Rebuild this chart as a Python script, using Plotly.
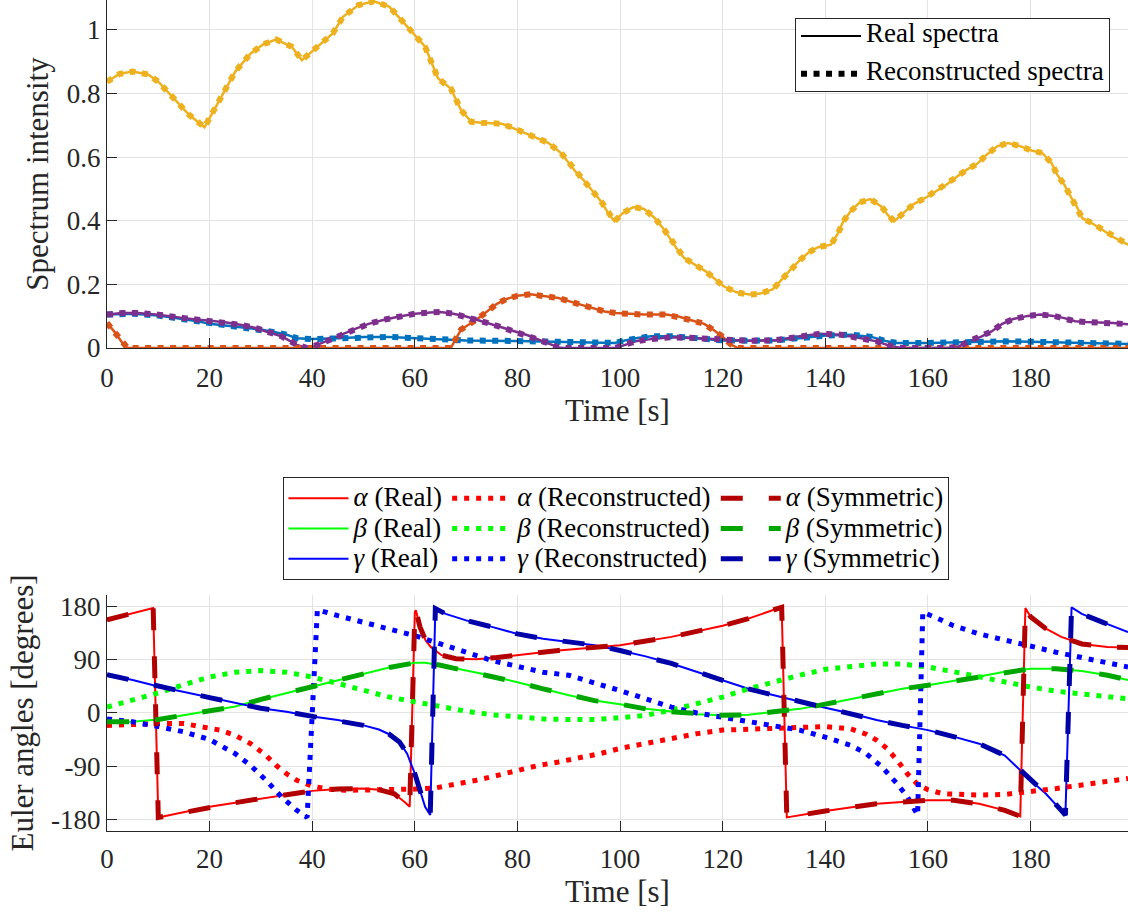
import plotly.graph_objects as go

# ---------------- top panel data (time [s], intensity) ----------------
t_yellow = [0, 2.5, 5, 8, 10, 13, 16, 19, 22, 25, 28, 30.5, 33, 36, 38, 41, 44, 46, 49, 52,
            55, 58, 60, 62, 64.5, 67, 69, 71, 73, 77, 80, 83, 86, 88.5, 91.3, 93.1, 94.7, 96.3,
            97.7, 98.9, 100.5, 102.6, 104.7, 106.8, 108.6, 109.7, 111.1, 112.5, 114.6, 116.7,
            118.5, 120.2, 122.7, 125.2, 127.3, 129.8, 131.5, 133.3, 135.1, 136.8, 138.6, 141.1,
            142.5, 143.5, 144.9, 146.7, 148.8, 150.9, 152.3, 153.4, 155.2, 157.3, 159.4, 161.5,
            163.6, 165.7, 167.5, 169.6, 171.4, 173.5, 175.6, 177.7, 180.2, 182.3, 184.1, 185.2,
            186.6, 188.0, 189.0, 190.1, 191.9, 194.0, 196.1, 199]
yellow = [0.837, 0.862, 0.869, 0.860, 0.837, 0.785, 0.733, 0.694, 0.780, 0.869, 0.926, 0.955,
          0.970, 0.947, 0.905, 0.947, 0.989, 1.041, 1.078, 1.090, 1.073, 1.020, 0.984, 0.947,
          0.848, 0.816, 0.748, 0.711, 0.708, 0.705, 0.686, 0.665, 0.645, 0.613, 0.555, 0.524,
          0.492, 0.461, 0.424, 0.398, 0.424, 0.443, 0.437, 0.408, 0.372, 0.346, 0.311, 0.283,
          0.262, 0.241, 0.217, 0.194, 0.175, 0.168, 0.171, 0.185, 0.215, 0.248, 0.277, 0.301,
          0.317, 0.325, 0.361, 0.398, 0.429, 0.458, 0.468, 0.445, 0.416, 0.398, 0.424, 0.453,
          0.471, 0.492, 0.513, 0.539, 0.560, 0.579, 0.607, 0.634, 0.644, 0.636, 0.621, 0.613,
          0.581, 0.545, 0.513, 0.471, 0.445, 0.408, 0.393, 0.372, 0.349, 0.325]

t_orange = [0, 1.5, 3, 4, 67, 69, 72, 74, 76, 78, 80, 82.5, 85, 88, 91.3, 94.5, 97, 99.1, 101.9,
            104.7, 109, 111.4, 113.5, 116.4, 118.1, 119.9, 121.7, 123, 199]
orange = [0.079, 0.050, 0.016, 0.0, 0.0, 0.058, 0.089, 0.115, 0.139, 0.155, 0.164, 0.169, 0.164,
          0.157, 0.141, 0.126, 0.115, 0.110, 0.107, 0.105, 0.105, 0.099, 0.089, 0.076, 0.058,
          0.037, 0.010, 0.0, 0.0]

t_blue = [0, 5, 10, 15, 18, 20, 25, 28, 30, 33, 35, 37, 40, 45, 50, 55, 60, 65, 70, 80, 88, 95,
          99, 101, 103, 106, 110, 115, 120, 125, 130, 135, 140, 145, 149, 152, 154, 160, 165,
          170, 175, 180, 190, 199]
blue = [0.105, 0.108, 0.102, 0.091, 0.083, 0.076, 0.068, 0.063, 0.058, 0.049, 0.042, 0.031,
        0.028, 0.031, 0.035, 0.035, 0.031, 0.026, 0.024, 0.022, 0.019, 0.016, 0.016, 0.024,
        0.031, 0.037, 0.037, 0.031, 0.024, 0.023, 0.024, 0.031, 0.039, 0.042, 0.035, 0.021,
        0.016, 0.016, 0.018, 0.021, 0.021, 0.020, 0.016, 0.013]

t_purple = [0, 3, 6, 10, 15, 20, 23, 26, 29, 31, 34, 37, 39, 41, 44, 46, 48.5, 51, 54, 57, 60,
            63, 65, 67.5, 70, 73, 76, 79, 82, 85, 88, 89, 99, 101, 103, 106, 110, 115, 120, 125,
            130, 135, 139, 143, 147, 150, 153, 155, 164, 166, 168, 170.3, 172.4, 174.5, 176.6,
            179.5, 182, 184.5, 186.6, 188.7, 190.8, 193.7, 196.1, 199]
purple = [0.105, 0.110, 0.110, 0.105, 0.094, 0.086, 0.081, 0.073, 0.063, 0.052, 0.037, 0.010,
          0.0, 0.010, 0.031, 0.045, 0.061, 0.076, 0.089, 0.099, 0.108, 0.112, 0.113, 0.108,
          0.099, 0.084, 0.070, 0.055, 0.040, 0.021, 0.002, 0.0, 0.0, 0.010, 0.021, 0.028, 0.034,
          0.031, 0.026, 0.023, 0.024, 0.037, 0.045, 0.042, 0.031, 0.021, 0.005, 0.0, 0.0, 0.005,
          0.021, 0.035, 0.052, 0.076, 0.091, 0.101, 0.105, 0.101, 0.094, 0.084, 0.082, 0.081,
          0.079, 0.075]

# ---------------- bottom panel data (time [s], angle [deg]) ----------------
t_alpha = [0, 9, 10, 15, 20, 25, 30, 35, 40, 45, 50, 53, 56, 58, 59, 60, 60.2, 61, 62.1, 63.1,
           65.2, 68, 72, 76, 80, 88, 100, 110, 120, 125, 130, 131.5, 132.5, 140, 150, 160, 165,
           170, 175, 177.5, 178, 179, 180, 183, 186, 190, 195, 199]
alpha_real = [158, 178, -177, -168, -159, -152, -145, -138, -132, -129, -128, -130, -137, -151,
              -159, 171, 174, 146, 123, 112, 98, 92, 91, 94, 98, 106, 115, 129, 148, 160, 175,
              179, -177, -166, -154, -148, -148, -154, -165, -173, -175, 178, 163, 143, 129,
              117, 112, 111]
alpha_sym = [158, 178, -177, -168, -159, -152, -145, -138, -132, -129, -128, -130, -137, -151,
             -159, 171, 174, 146, 123, 112, 98, 92, 91, 94, 98, 106, 115, 129, 148, 160, 175,
             179, -177, -166, -154, -148, -148, -154, -165, -173, -175, 178, 163, 143, 129,
             117, 112, 111]

t_alpha_rec = [0, 5, 10, 15, 18, 22, 25, 28, 31, 33, 35, 37, 40, 43, 47, 52, 56, 60, 64, 68, 72,
               76, 80, 84, 88, 92, 96, 100, 105, 110, 115, 120, 125, 130, 135, 140, 145, 148,
               150, 152, 154, 156, 158, 160, 163, 167, 170, 175, 180, 185, 190, 195, 199]
alpha_rec = [-21, -19, -18, -18, -23, -29, -38, -52, -72, -89, -103, -114, -124, -129, -131,
             -131, -130, -129, -127, -121, -114, -106, -97, -89, -83, -77, -69, -60, -51, -44,
             -35, -29, -27, -25, -23, -23, -27, -36, -46, -60, -80, -103, -121, -130, -137,
             -139, -139, -138, -134, -128, -122, -116, -111]

t_beta = [0, 5, 10, 15, 20, 25, 30, 35, 40, 45, 50, 55, 60, 62, 65, 70, 75, 80, 85, 90, 95, 100,
          105, 110, 115, 120, 125, 130, 135, 140, 145, 150, 155, 160, 165, 170, 175, 180, 185,
          190, 195, 199]
beta_real = [-15, -15, -11, -4, 3, 11, 23, 34, 45, 55, 67, 77, 85, 85, 81, 72, 63, 52, 41, 30,
             21, 15, 7, 2, -2, -4, -3, 2, 7, 15, 24, 33, 41, 47, 54, 62, 70, 75, 75, 71, 64, 56]
beta_sym = [-15, -15, -11, -4, 3, 11, 23, 34, 45, 55, 67, 77, 85, 85, 81, 72, 63, 52, 41, 30,
            21, 15, 7, 2, -2, -4, -3, 2, 7, 15, 24, 33, 41, 47, 54, 62, 70, 75, 75, 71, 64, 56]

t_beta_rec = [0, 5, 10, 15, 20, 25, 30, 35, 40, 45, 50, 55, 60, 65, 70, 75, 80, 85, 90, 95, 100,
              105, 110, 115, 120, 125, 130, 135, 140, 145, 150, 155, 160, 165, 170, 175, 180,
              185, 190, 195, 199]
beta_rec = [10, 21, 34, 48, 61, 69, 72, 69, 61, 50, 38, 27, 19, 10, 3, -3, -7, -10, -11, -11,
            -8, -4, 5, 15, 27, 41, 53, 64, 74, 79, 83, 83, 78, 70, 61, 53, 44, 37, 32, 27, 24]

t_gamma = [0, 5, 10, 15, 20, 25, 30, 35, 40, 45, 50, 53, 55, 57, 58.5, 60, 61, 62, 63, 64, 66,
           70, 75, 80, 85, 90, 95, 100, 105, 110, 115, 120, 125, 130, 135, 140, 145, 150, 155,
           160, 165, 170, 175, 178, 180, 183, 186, 186.8, 188, 190, 194, 199]
gamma_real = [65, 56, 45, 36, 26, 17, 8, 2, -6, -12, -21, -28, -36, -49, -69, -103, -131, -159,
              -173, 177, 168, 157, 146, 134, 126, 121, 115, 106, 96, 84, 70, 55, 41, 30, 19, 9,
              -1, -12, -21, -29, -40, -52, -72, -97, -114, -137, -165, -173, 179, 168, 154, 137]
gamma_sym = [65, 56, 45, 36, 26, 17, 8, 2, -6, -12, -21, -28, -36, -49, -69, -103, -131, -159,
             -173, 177, 168, 157, 146, 134, 126, 121, 115, 106, 96, 84, 70, 55, 41, 30, 19, 9,
             -1, -12, -21, -29, -40, -52, -72, -97, -114, -137, -165, -173, 179, 168, 154, 137]

t_gamma_rec = [0, 5, 10, 15, 20, 25, 28, 31, 34, 37, 39, 41, 45, 50, 55, 60, 65, 70, 75, 80, 85,
               90, 95, 100, 105, 110, 115, 120, 125, 130, 135, 140, 145, 148, 151, 154, 156, 158,
               159, 162, 165, 170, 175, 180, 185, 190, 195, 199]
gamma_rec = [-10, -15, -23, -32, -45, -69, -89, -114, -142, -165, -177, 175, 165, 154, 143, 131,
             117, 102, 89, 79, 69, 64, 52, 38, 24, 10, 0, -7, -15, -21, -29, -41, -55, -69, -91,
             -120, -142, -173, 171, 160, 148, 134, 123, 112, 103, 94, 85, 78]

x_ticks = [0, 20, 40, 60, 80, 100, 120, 140, 160, 180]
y1_ticks = [0, 0.2, 0.4, 0.6, 0.8, 1]
y1_labels = ["0", "0.2", "0.4", "0.6", "0.8", "1"]
y2_ticks = [-180, -90, 0, 90, 180]
y2_labels = ["-180", "-90", "0", "90", "180"]

FONT = "Liberation Serif, Times New Roman, serif"
TXT = "#262626"


def big(s):
    return '<span style="font-size:27px">' + s + '</span>'


fig = go.Figure()

# ---- top panel ----
top_series = [(t_blue, blue, "#0072BD"), (t_orange, orange, "#D95319"),
              (t_yellow, yellow, "#EDB120"), (t_purple, purple, "#7E2F8E")]
for tt, vv, col in top_series:
    fig.add_trace(go.Scatter(x=tt, y=vv, mode="lines", line=dict(color=col, width=2.5),
                             showlegend=False, xaxis="x", yaxis="y"))
for tt, vv, col in top_series:
    fig.add_trace(go.Scatter(x=tt, y=vv, mode="lines",
                             line=dict(color=col, width=6, dash="6px,6.5px"),
                             showlegend=False, xaxis="x", yaxis="y"))
# legend proxies
fig.add_trace(go.Scatter(x=[None], y=[None], mode="lines", line=dict(color="black", width=2),
                         name=big("Real spectra"), legend="legend", legendgroup="a",
                         xaxis="x", yaxis="y"))
fig.add_trace(go.Scatter(x=[None], y=[None], mode="lines",
                         line=dict(color="black", width=6, dash="6px,6.5px"),
                         name=big("Reconstructed spectra"), legend="legend", legendgroup="b",
                         xaxis="x", yaxis="y"))

# ---- bottom panel ----
bottom = [
    (t_alpha, alpha_real, "#FF0000", "solid", 2, "<i>α</i> (Real)", "real"),
    (t_beta, beta_real, "#00FF00", "solid", 2, "<i>β</i> (Real)", "real"),
    (t_gamma, gamma_real, "#0000FF", "solid", 2, "<i>γ</i> (Real)", "real"),
    (t_alpha_rec, alpha_rec, "#FF0000", "5px,7px", 5, "<i>α</i> (Reconstructed)", "rec"),
    (t_beta_rec, beta_rec, "#00FF00", "5px,7px", 5, "<i>β</i> (Reconstructed)", "rec"),
    (t_gamma_rec, gamma_rec, "#0000FF", "5px,7px", 5, "<i>γ</i> (Reconstructed)", "rec"),
    (t_alpha, alpha_sym, "#B30000", "22px,26px", 5, "<i>α</i> (Symmetric)", "sym"),
    (t_beta, beta_sym, "#00A600", "22px,26px", 5, "<i>β</i> (Symmetric)", "sym"),
    (t_gamma, gamma_sym, "#0000A8", "22px,26px", 5, "<i>γ</i> (Symmetric)", "sym"),
]
for tt, vv, col, dash, w, name, grp in bottom:
    fig.add_trace(go.Scatter(x=tt, y=vv, mode="lines", line=dict(color=col, width=w, dash=dash),
                             name=big(name), legend="legend2", legendgroup=grp,
                             xaxis="x2", yaxis="y2"))

axis_common = dict(
    showline=True, linecolor=TXT, linewidth=1, mirror=False,
    ticks="inside", ticklen=10, tickcolor=TXT, tickwidth=1,
    showgrid=True, gridcolor="#e3e3e3", gridwidth=1, zeroline=False,
    tickfont=dict(family=FONT, size=27, color=TXT), automargin=False,
)
title_font = dict(size=31, family=FONT, color=TXT)

fig.update_layout(
    width=1128, height=913,
    margin=dict(l=107, r=0, t=0, b=82),
    paper_bgcolor="white", plot_bgcolor="white",
    font=dict(family=FONT, color=TXT),
    xaxis=dict(domain=[0, 1], anchor="y", range=[0, 199], tickvals=x_ticks, ticklabelstandoff=6,
               title=dict(text="Time [s]", font=title_font, standoff=2),
               **axis_common),
    yaxis=dict(domain=[0.5812, 1], anchor="x", range=[0, 1.094], tickvals=y1_ticks,
               ticktext=y1_labels,
               title=dict(text="Spectrum intensity", font=title_font, standoff=8),
               **axis_common),
    xaxis2=dict(domain=[0, 1], anchor="y2", range=[0, 199], tickvals=x_ticks, ticklabelstandoff=4,
                title=dict(text="Time [s]", font=title_font, standoff=2),
                **axis_common),
    yaxis2=dict(domain=[0, 0.284], anchor="x2", range=[-200, 200], tickvals=y2_ticks,
                ticktext=y2_labels,
                title=dict(text="Euler angles [degrees]", font=title_font, standoff=8),
                **axis_common),
    legend=dict(x=0.9824, xanchor="right", y=0.9783, yanchor="top", bgcolor="white",
                bordercolor=TXT, borderwidth=1, font=dict(family=FONT, size=16, color="black"),
                traceorder="grouped", tracegroupgap=14, itemwidth=60),
    legend2=dict(x=0.499, xanchor="center", y=0.426, yanchor="top", orientation="h",
                 bgcolor="white", bordercolor=TXT, borderwidth=1,
                 font=dict(family=FONT, size=21, color="black"),
                 traceorder="grouped", itemwidth=60),
)

fig.write_html("out.html")
